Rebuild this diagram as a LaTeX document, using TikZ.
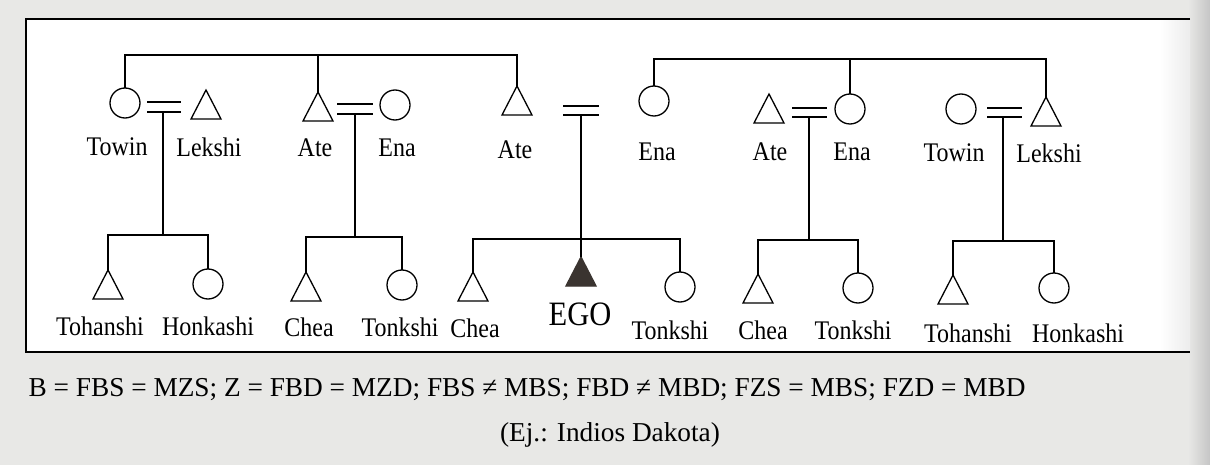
\documentclass[tikz,border=0pt]{standalone}
\usepackage{fontspec}
\usepackage{graphicx}
\setmainfont{Liberation Serif}
\usetikzlibrary{shapes.geometric}
\definecolor{pagegray}{RGB}{232,232,230}
\definecolor{egofill}{RGB}{58,52,48}
\newcommand{\tallt}[1]{\scalebox{1}[1.12]{#1}}
\begin{document}
\begin{tikzpicture}[x=1pt,y=-1pt,
  line width=1.3pt,
  male/.style={draw,isosceles triangle,isosceles triangle stretches,shape border rotate=90,
    minimum width=30pt,minimum height=29pt,inner sep=0pt,outer sep=0pt,anchor=apex},
  female/.style={draw,circle,minimum size=30pt,inner sep=0pt,outer sep=0pt},
  ego/.style={male,fill=egofill,draw=egofill},
  lbl/.style={font=\fontsize{24}{28}\selectfont,inner sep=0pt},
  caption/.style={font=\fontsize{27.3}{31}\selectfont,inner sep=0pt}]
% background page and box
\path[fill=pagegray] (0,0) rectangle (1210,465);
\shade[left color=pagegray,right color=gray!45] (1188,0) rectangle (1210,465);
\path[fill=white] (26,19) rectangle (1190,352);
\shade[left color=white,right color=gray!15] (1160,20) rectangle (1190,351);
\draw[line width=2pt] (1190,19) -- (26,19) -- (26,352) -- (1190,352);

% ---------- Group A ----------
\node[female] (towinA) at (125,103) {};
\node[male] (lekshiA) at (206,90) {};
\coordinate (mA1l) at (147,102); \coordinate (mA1r) at (181,102);
\coordinate (mA2l) at (147,112); \coordinate (mA2r) at (181,112);
\draw (mA1l) -- (mA1r); \draw (mA2l) -- (mA2r);
\coordinate (dA) at (163,112); \coordinate (bA) at (163,235);
\node[male] (tohanshiA) at (108,270) {};
\node[female] (honkashiA) at (208,284) {};
\draw (dA) -- (bA);
\draw (tohanshiA.apex) |- (bA) -| (honkashiA.north);
\node[lbl] (lTowinA) at (117,147) {\tallt{Towin}};
\node[lbl] (lLekshiA) at (209,147) {\tallt{Lekshi}};
\node[lbl] (lTohanshiA) at (100,326) {\tallt{Tohanshi}};
\node[lbl] (lHonkashiA) at (208,326) {\tallt{Honkashi}};

% ---------- Group B ----------
\node[male] (ateB) at (318,92) {};
\node[female] (enaB) at (395,105) {};
\coordinate (mB1l) at (337,104); \coordinate (mB1r) at (373,104);
\coordinate (mB2l) at (337,114); \coordinate (mB2r) at (373,114);
\draw (mB1l) -- (mB1r); \draw (mB2l) -- (mB2r);
\coordinate (dB) at (355,114); \coordinate (bB) at (355,237);
\node[male] (cheaB) at (306,272) {};
\node[female] (tonkshiB) at (402,285) {};
\draw (dB) -- (bB);
\draw (cheaB.apex) |- (bB) -| (tonkshiB.north);
\node[lbl] (lAteB) at (315,148) {\tallt{Ate}};
\node[lbl] (lEnaB) at (397,148) {\tallt{Ena}};
\node[lbl] (lCheaB) at (309,327) {\tallt{Chea}};
\node[lbl] (lTonkshiB) at (400,327) {\tallt{Tonkshi}};

% ---------- Group C (EGO) ----------
\node[male] (ateC) at (517,86) {};
\node[female] (enaC) at (654,101) {};
\coordinate (mC1l) at (563,106); \coordinate (mC1r) at (599,106);
\coordinate (mC2l) at (563,115); \coordinate (mC2r) at (599,115);
\draw (mC1l) -- (mC1r); \draw (mC2l) -- (mC2r);
\coordinate (dC) at (581,115); \coordinate (bC) at (581,239);
\node[male] (cheaC) at (473,272) {};
\node[ego] (egoC) at (581,257) {};
\node[female] (tonkshiC) at (680,287) {};
\draw (dC) -- (egoC.apex);
\draw (cheaC.apex) |- (bC) -| (tonkshiC.north);
\node[lbl] (lAteC) at (515,150) {\tallt{Ate}};
\node[lbl] (lEnaC) at (657,152) {\tallt{Ena}};
\node[lbl] (lCheaC) at (475,328) {\tallt{Chea}};
\node[inner sep=0pt,font=\fontsize{30.5}{34}\selectfont] (lEgo) at (580,314) {\tallt{EGO}};
\node[lbl] (lTonkshiC) at (670,330) {\tallt{Tonkshi}};

% ---------- Group D ----------
\node[male] (ateD) at (769,94) {};
\node[female] (enaD) at (850,109) {};
\coordinate (mD1l) at (792,108); \coordinate (mD1r) at (827,108);
\coordinate (mD2l) at (792,117); \coordinate (mD2r) at (827,117);
\draw (mD1l) -- (mD1r); \draw (mD2l) -- (mD2r);
\coordinate (dD) at (809,117); \coordinate (bD) at (809,240);
\node[male] (cheaD) at (758,274) {};
\node[female] (tonkshiD) at (858,288) {};
\draw (dD) -- (bD);
\draw (cheaD.apex) |- (bD) -| (tonkshiD.north);
\node[lbl] (lAteD) at (770,152) {\tallt{Ate}};
\node[lbl] (lEnaD) at (852,152) {\tallt{Ena}};
\node[lbl] (lCheaD) at (763,330) {\tallt{Chea}};
\node[lbl] (lTonkshiD) at (853,330) {\tallt{Tonkshi}};

% ---------- Group E ----------
\node[female] (towinE) at (961,109) {};
\node[male] (lekshiE) at (1046,97) {};
\coordinate (mE1l) at (987,108); \coordinate (mE1r) at (1022,108);
\coordinate (mE2l) at (987,117); \coordinate (mE2r) at (1022,117);
\draw (mE1l) -- (mE1r); \draw (mE2l) -- (mE2r);
\coordinate (dE) at (1003,117); \coordinate (bE) at (1003,241);
\node[male] (tohanshiE) at (953,275) {};
\node[female] (honkashiE) at (1054,288) {};
\draw (dE) -- (bE);
\draw (tohanshiE.apex) |- (bE) -| (honkashiE.north);
\node[lbl] (lTowinE) at (954,153) {\tallt{Towin}};
\node[lbl] (lLekshiE) at (1049,153) {\tallt{Lekshi}};
\node[lbl] (lTohanshiE) at (968,333) {\tallt{Tohanshi}};
\node[lbl] (lHonkashiE) at (1078,333) {\tallt{Honkashi}};

% ---------- sibling bars of the parents ----------
\coordinate (topL) at (319,55);
\coordinate (topR) at (850,59);
\draw (towinA.north) |- (ateC.apex |- topL) -- (ateC.apex);
\draw (ateB.apex) -- (ateB.apex |- topL);
\draw (enaC.north) |- (lekshiE.apex |- topR) -- (lekshiE.apex);
\draw (enaD.north) -- (enaD.north |- topR);

% ---------- captions ----------
\node[caption,anchor=west] (rule) at (28,390) {B = FBS = MZS; Z = FBD = MZD; FBS ≠ MBS; FBD ≠ MBD; FZS = MBS; FZD = MBD};
\node[caption] (ej) at (610,435) {(Ej.: Indios Dakota)};
\end{tikzpicture}
\end{document}
